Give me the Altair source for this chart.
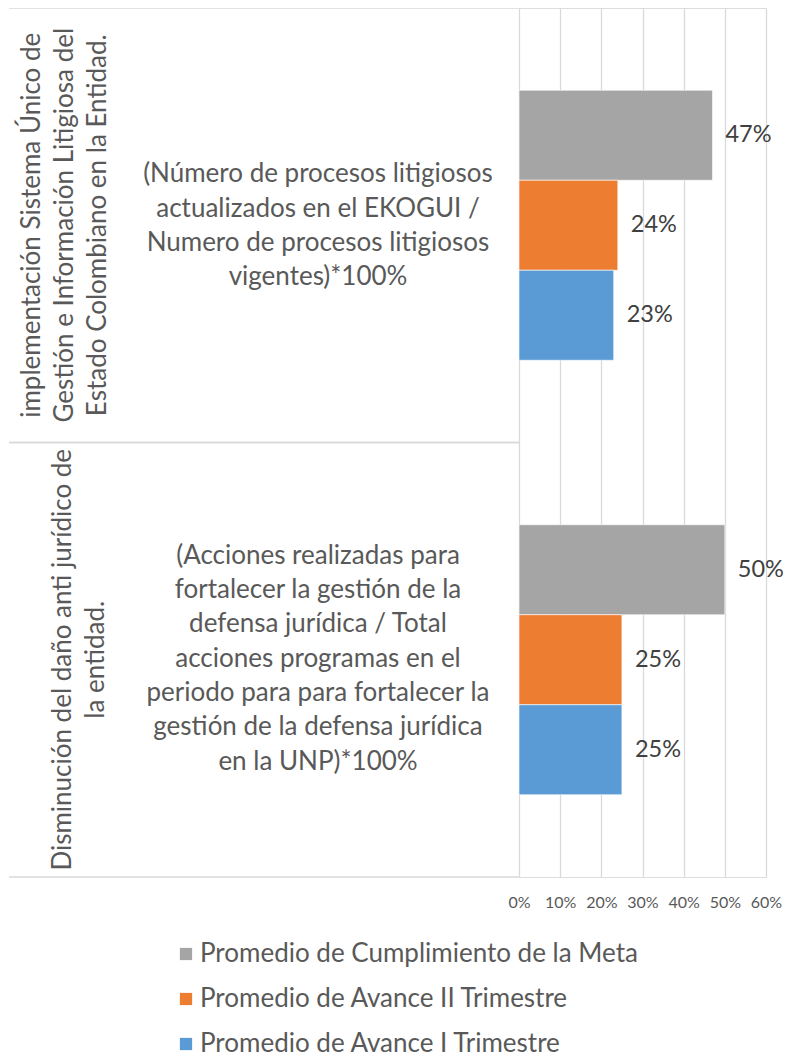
import altair as alt
import pandas as pd

# ---- data ----
outer_labels = [
    "implementación Sistema Único de\nGestión e Información Litigiosa del\nEstado Colombiano en la Entidad.",
    "Disminución del daño anti jurídico de\nla entidad.",
]
inner_labels = [
    "(Número de procesos litigiosos\nactualizados en el EKOGUI /\nNumero de procesos litigiosos\nvigentes)*100%",
    "(Acciones realizadas para\nfortalecer la gestión de la\ndefensa jurídica / Total\nacciones programas en el\nperiodo para para fortalecer la\ngestión de la defensa jurídica\nen la UNP)*100%",
]
series = [
    "Promedio de Cumplimiento de la Meta",
    "Promedio de Avance II Trimestre",
    "Promedio de Avance I Trimestre",
]
values_ind1 = [0.47, 0.24, 0.23]
values_ind2 = [0.50, 0.25, 0.25]
colors = ["#A5A5A5", "#ED7D31", "#5B9BD5"]
tick_values = [0, 0.1, 0.2, 0.3, 0.4, 0.5, 0.6]

ind_keys = ["ind1", "ind2"]
rows = []
for key, vals in zip(ind_keys, [values_ind1, values_ind2]):
    for s, v in zip(series, vals):
        rows.append({"ind": key, "serie": s, "valor": v})
bars_df = pd.DataFrame(rows)
cat_df = pd.DataFrame({"ind": ind_keys, "outer": outer_labels, "inner": inner_labels})

FONT = "Lato"
W, H = 247, 869
TXT = "#595959"

y_scale = alt.Scale(paddingInner=0, paddingOuter=0)
y_enc = alt.Y("ind:N", sort=ind_keys, axis=None, scale=y_scale)
yoff_enc = alt.YOffset("serie:N", sort=series,
                       scale=alt.Scale(paddingInner=0, paddingOuter=0.914))

bars = alt.Chart(bars_df).mark_bar(stroke="white", strokeWidth=0.6).encode(
    x=alt.X("valor:Q", scale=alt.Scale(domain=[0, 0.6], nice=False),
            axis=alt.Axis(values=tick_values, format=".0%", title=None,
                          grid=True, gridColor="#d9d9d9", gridWidth=1.25,
                          domain=False, ticks=False, labelOverlap=False,
                          labelFlush=False,
                          labelFontSize=16, labelColor=TXT, labelPadding=17,
                          labelFont=FONT)),
    y=y_enc,
    yOffset=yoff_enc,
    color=alt.Color("serie:N", sort=series,
                    scale=alt.Scale(domain=series, range=colors),
                    legend=alt.Legend(orient="none", legendX=-346, legendY=933,
                                      title=None, symbolType="square", symbolSize=150,
                                      symbolStrokeWidth=0, labelFontSize=26,
                                      labelColor=TXT, labelFont=FONT,
                                      rowPadding=19, labelOffset=1, labelLimit=1000)),
)

labels = alt.Chart(bars_df).mark_text(
    align="left", baseline="middle", dx=13, fontSize=23.5, color="#404040", font=FONT
).encode(
    x="valor:Q", y=y_enc, yOffset=yoff_enc,
    text=alt.Text("valor:Q", format=".0%"),
)

def inner_layer(key, dy):
    return alt.Chart(cat_df).transform_filter(alt.datum.ind == key).mark_text(
        align="center", baseline="middle", lineBreak="\n", lineHeight=34.3,
        fontSize=26, color=TXT, font=FONT, dy=dy
    ).encode(x=alt.value(-201), y=y_enc, text="inner:N")

def outer_layer(key, xpos):
    return alt.Chart(cat_df).transform_filter(alt.datum.ind == key).mark_text(
        align="center", baseline="middle", lineBreak="\n", lineHeight=33,
        fontSize=26, color=TXT, font=FONT, angle=270
    ).encode(x=alt.value(xpos), y=y_enc, text="outer:N")

frame_top = alt.Chart(cat_df).mark_rule(color="#d9d9d9", strokeWidth=1.5).encode(
    x=alt.value(-510), x2=alt.value(0),
    y=alt.Y("ind:N", sort=ind_keys, axis=None, bandPosition=0, scale=y_scale),
)
frame_bot = alt.Chart(cat_df).mark_rule(color="#d9d9d9", strokeWidth=1.5).encode(
    x=alt.value(-510), x2=alt.value(0),
    y=alt.Y("ind:N", sort=ind_keys, axis=None, bandPosition=1, scale=y_scale),
)

chart = alt.layer(
    frame_top, frame_bot, bars, labels,
    inner_layer("ind1", -51), inner_layer("ind2", -104),
    outer_layer("ind1", -487), outer_layer("ind2", -456),
).properties(
    width=W, height=H,
    autosize=alt.AutoSizeParams(type="none"),
    padding={"left": 511, "top": 0, "right": 17, "bottom": 180},
).configure_view(stroke=None).configure(font=FONT)

chart.save("out.html", embed_options={"renderer": "svg", "actions": False})
